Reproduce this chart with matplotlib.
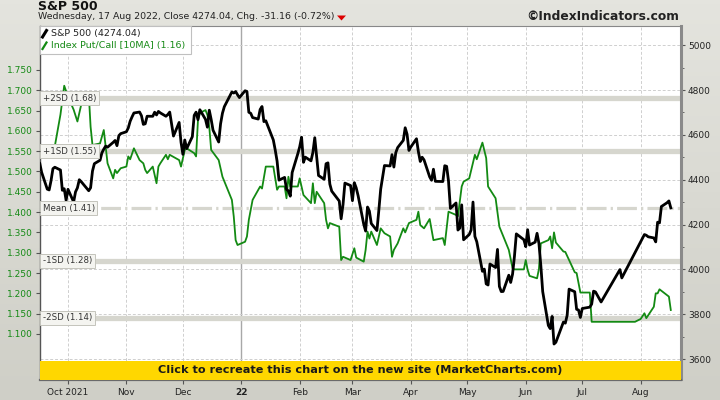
import pandas as pd
import matplotlib
matplotlib.use("Agg")
import matplotlib.pyplot as plt
import matplotlib.dates as mdates
import matplotlib.transforms as mtrans
from matplotlib.colors import LinearSegmentedColormap
from matplotlib.patches import Rectangle, Polygon
from matplotlib.lines import Line2D
from matplotlib.ticker import FixedLocator, MultipleLocator, FormatStrFormatter

# ==== DATA ====
# S&P 500 daily closes, 15 Sep 2021 .. 17 Aug 2022 (gaps in July as on the chart)
sp_close = [
    # Sep 2021
    4480.7, 4473.8, 4433.0, 4357.7, 4354.2, 4395.6, 4449.0, 4455.5, 4443.1, 4352.6, 4359.5, 4307.5,
    # Oct
    4357.0, 4300.5, 4345.7, 4363.6, 4399.8, 4391.3, 4361.2, 4350.7, 4363.8, 4438.3, 4471.4,
    4486.5, 4519.6, 4536.2, 4549.8, 4544.9, 4566.5, 4574.8, 4551.7, 4596.4, 4605.4,
    # Nov
    4613.7, 4630.7, 4660.6, 4680.1, 4697.5, 4701.7, 4685.3, 4646.7, 4649.3, 4682.9, 4682.8,
    4700.9, 4688.7, 4704.5, 4698.0, 4682.9, 4690.7, 4701.5, 4594.6, 4655.3, 4567.0,
    # Dec
    4513.0, 4577.1, 4538.4, 4591.7, 4686.8, 4701.2, 4667.5, 4712.0, 4669.0, 4634.1, 4709.9,
    4668.7, 4620.6, 4568.0, 4649.2, 4696.6, 4725.8, 4791.2, 4786.4, 4793.1, 4778.7, 4766.2,
    # Jan 2022
    4796.6, 4793.5, 4700.6, 4696.1, 4677.0, 4670.3, 4713.1, 4726.4, 4659.0, 4662.9,
    4577.1, 4532.8, 4482.7, 4397.9, 4410.1, 4356.5, 4349.9, 4326.5, 4431.9, 4515.6,
    # Feb
    4546.5, 4589.4, 4477.4, 4500.5, 4483.9, 4521.5, 4587.2, 4504.1, 4418.6, 4401.7,
    4471.1, 4475.0, 4380.3, 4348.9, 4304.8, 4225.5, 4288.7, 4384.7, 4373.9,
    # Mar
    4306.3, 4386.5, 4363.5, 4328.9, 4201.1, 4170.7, 4277.9, 4259.5, 4204.3, 4173.1, 4262.5, 4357.9,
    4411.7, 4463.1, 4461.2, 4511.6, 4456.2, 4520.2, 4543.1, 4575.5, 4631.6, 4602.5, 4530.4,
    # Apr
    4545.9, 4582.6, 4525.1, 4481.2, 4500.2, 4488.3, 4412.5, 4397.5, 4446.6, 4392.6,
    4391.7, 4462.2, 4459.5, 4393.7, 4271.8, 4296.1, 4175.2, 4184.0, 4287.5, 4131.9,
    # May
    4155.4, 4175.5, 4300.2, 4146.9, 4123.3, 3991.2, 4001.1, 3935.2, 3930.1, 4023.9, 4008.0,
    4088.9, 3923.7, 3900.8, 3901.4, 3973.8, 3941.5, 3978.7, 4057.8, 4158.2, 4132.2,
    # Jun
    4101.2, 4176.8, 4108.5, 4121.4, 4160.7, 4115.8, 4017.8, 3900.9, 3749.6, 3735.5, 3790.0,
    3666.8, 3674.8, 3764.8, 3759.9, 3795.7, 3911.7, 3900.1, 3821.6, 3818.8, 3785.4,
    # Jul
    3825.3, 3831.4, 3845.1, 3902.6, 3899.4, 3854.4, 3999.0, 3961.6,
    # Aug
    4155.2, 4151.9, 4145.2, 4140.1, 4122.5, 4210.2, 4207.3, 4280.2, 4297.1, 4305.2, 4274.0,
]
holidays = ["2021-11-25", "2021-12-24", "2022-01-17", "2022-02-21",
            "2022-04-15", "2022-05-30", "2022-06-20", "2022-07-04"]
gaps = [("2022-07-12", "2022-07-20"), ("2022-07-25", "2022-08-02")]

# Index Put/Call ratio, 10 day moving average
pc_dates = [
    "2021-09-15", "2021-09-17", "2021-09-20", "2021-09-22", "2021-09-24", "2021-09-27", "2021-09-29",
    "2021-10-01", "2021-10-04", "2021-10-06", "2021-10-08", "2021-10-11", "2021-10-12", "2021-10-13",
    "2021-10-14", "2021-10-18", "2021-10-19", "2021-10-20", "2021-10-21", "2021-10-22", "2021-10-25",
    "2021-10-26", "2021-10-27", "2021-10-29", "2021-11-01", "2021-11-02", "2021-11-03", "2021-11-05",
    "2021-11-08", "2021-11-10", "2021-11-11", "2021-11-12", "2021-11-15", "2021-11-17", "2021-11-18",
    "2021-11-19", "2021-11-22", "2021-11-23", "2021-11-24", "2021-11-29", "2021-11-30", "2021-12-02",
    "2021-12-03", "2021-12-06", "2021-12-07", "2021-12-08", "2021-12-09", "2021-12-10", "2021-12-13",
    "2021-12-14", "2021-12-15", "2021-12-16", "2021-12-20", "2021-12-22", "2021-12-27", "2021-12-28",
    "2021-12-29", "2021-12-30", "2022-01-03", "2022-01-04", "2022-01-05", "2022-01-07", "2022-01-10",
    "2022-01-11", "2022-01-12", "2022-01-14", "2022-01-18", "2022-01-20", "2022-01-21", "2022-01-24",
    "2022-01-25", "2022-01-26", "2022-01-27", "2022-01-31", "2022-02-01", "2022-02-03", "2022-02-07",
    "2022-02-08", "2022-02-09", "2022-02-10", "2022-02-14", "2022-02-15", "2022-02-16", "2022-02-17",
    "2022-02-22", "2022-02-23", "2022-02-24", "2022-02-28", "2022-03-02", "2022-03-03", "2022-03-07",
    "2022-03-08", "2022-03-09", "2022-03-10", "2022-03-11", "2022-03-14", "2022-03-16", "2022-03-18",
    "2022-03-21", "2022-03-22", "2022-03-23", "2022-03-25", "2022-03-28", "2022-03-29", "2022-03-31",
    "2022-04-04", "2022-04-05", "2022-04-06", "2022-04-08", "2022-04-11", "2022-04-13", "2022-04-18",
    "2022-04-19", "2022-04-21", "2022-04-25", "2022-04-26", "2022-04-28", "2022-04-29", "2022-05-02",
    "2022-05-05", "2022-05-06", "2022-05-09", "2022-05-11", "2022-05-12", "2022-05-16", "2022-05-18",
    "2022-05-23", "2022-05-25", "2022-05-26", "2022-05-31", "2022-06-01", "2022-06-02", "2022-06-03",
    "2022-06-07", "2022-06-08", "2022-06-09", "2022-06-13", "2022-06-14", "2022-06-15", "2022-06-16",
    "2022-06-17", "2022-06-21", "2022-06-22", "2022-06-27", "2022-06-28", "2022-06-30", "2022-07-05",
    "2022-07-06", "2022-07-29", "2022-08-01", "2022-08-03", "2022-08-04", "2022-08-08", "2022-08-09",
    "2022-08-10", "2022-08-11", "2022-08-16", "2022-08-17",
]
pc_vals = [
    1.573, 1.563, 1.545, 1.538, 1.562, 1.640, 1.711,
    1.684, 1.652, 1.623, 1.664, 1.672, 1.693, 1.610,
    1.565, 1.569, 1.586, 1.602, 1.561, 1.520, 1.483,
    1.504, 1.496, 1.508, 1.512, 1.537, 1.530, 1.557,
    1.528, 1.520, 1.504, 1.496, 1.512, 1.471, 1.512,
    1.520, 1.541, 1.530, 1.541, 1.528, 1.512, 1.553,
    1.557, 1.548, 1.545, 1.537, 1.627, 1.644, 1.651,
    1.639, 1.610, 1.553, 1.528, 1.487, 1.430, 1.389,
    1.331, 1.319, 1.327, 1.340, 1.381, 1.430, 1.455,
    1.463, 1.458, 1.512, 1.512, 1.455, 1.463, 1.463,
    1.434, 1.487, 1.463, 1.463, 1.483, 1.442, 1.422,
    1.471, 1.422, 1.450, 1.422, 1.381, 1.360, 1.373,
    1.364, 1.282, 1.290, 1.282, 1.311, 1.288, 1.278,
    1.307, 1.352, 1.335, 1.352, 1.319, 1.360, 1.348,
    1.340, 1.290, 1.307, 1.323, 1.360, 1.350, 1.373,
    1.381, 1.401, 1.368, 1.360, 1.383, 1.331, 1.336,
    1.319, 1.401, 1.393, 1.390, 1.463, 1.475, 1.483,
    1.541, 1.530, 1.571, 1.533, 1.463, 1.434, 1.364,
    1.307, 1.262, 1.259, 1.259, 1.282, 1.258, 1.243,
    1.237, 1.260, 1.323, 1.331, 1.340, 1.311, 1.350,
    1.325, 1.303, 1.302, 1.252, 1.250, 1.202, 1.202,
    1.130, 1.130, 1.137, 1.151, 1.139, 1.167, 1.200,
    1.200, 1.210, 1.192, 1.159,
]

sd_names = ["+2SD", "+1SD", "Mean", "-1SD", "-2SD"]
sd_levels = [1.68, 1.55, 1.41, 1.28, 1.14]

month_ticks = ["2021-10-01", "2021-11-01", "2021-12-01", "2022-01-01", "2022-02-01", "2022-03-01",
               "2022-04-01", "2022-05-01", "2022-06-01", "2022-07-01", "2022-08-01"]
month_labels = ["Oct 2021", "Nov", "Dec", "22", "Feb", "Mar", "Apr", "May", "Jun", "Jul", "Aug"]

# ==== DATES ====
sp_dates = pd.bdate_range("2021-09-15", "2022-08-17", freq="C", holidays=holidays)
for a, b in gaps:
    sp_dates = sp_dates[(sp_dates < a) | (sp_dates > b)]
pc_x = pd.to_datetime(pc_dates)
ticks_x = pd.to_datetime(month_ticks)

# ==== FIGURE ====
plt.rcParams["font.family"] = ["DejaVu Sans"]
W, H = 720, 400
fig = plt.figure(figsize=(7.2, 4.0), dpi=100)


def fx(px):
    return px / W


def fy(py):
    return 1 - py / H


# background gradient
bg = fig.add_axes([0, 0, 1, 1], zorder=-10)
cmap_bg = LinearSegmentedColormap.from_list("bg", ["#e4e4de", "#cfcfc7"])
bg.imshow([[i / 99] for i in range(100)], aspect="auto", cmap=cmap_bg, extent=[0, 1, 0, 1])
bg.axis("off")

L, R, T, B = 39.5, 681, 26, 379.5
ax = fig.add_axes([fx(L), fy(B), (R - L) / W, (B - T) / H])
ax.set_facecolor("white")
ax_pc = ax.twinx()
ax_pc.patch.set_visible(False)

ax.set_xlim(pd.Timestamp("2021-09-15 21:00"), pd.Timestamp("2022-08-22 10:00"))
ax.set_ylim(3508.6, 5085.5)
ax_pc.set_ylim(0.988, 1.858)
ax.set_autoscale_on(False)
ax_pc.set_autoscale_on(False)

# S&P axis on the right, put/call on the left
ax.yaxis.tick_right()
ax_pc.yaxis.tick_left()
ax.yaxis.set_major_locator(MultipleLocator(200))
ax.yaxis.set_minor_locator(MultipleLocator(100))
ax.tick_params(axis="y", which="major", length=3, color="#555555", labelsize=6.5,
               labelcolor="#222222", pad=2)
ax.tick_params(axis="y", which="minor", length=2, color="#555555")
ax_pc.yaxis.set_major_locator(FixedLocator([1.10 + 0.05 * i for i in range(14)]))
ax_pc.yaxis.set_major_formatter(FormatStrFormatter("%.3f"))
ax_pc.tick_params(axis="y", length=3, color="#555555", labelsize=6.5,
                  labelcolor="#168a16", pad=2)

ax.xaxis.set_major_locator(FixedLocator(mdates.date2num(ticks_x)))
ax.set_xticklabels(month_labels)
ax.tick_params(axis="x", length=3, color="#555555", labelsize=6.5, labelcolor="#222222", pad=3)
ax.get_xticklabels()[3].set_fontweight("bold")

for sp in ax_pc.spines.values():
    sp.set_visible(False)
ax.spines["left"].set_color("#555555")
ax.spines["left"].set_linewidth(1.0)
ax.spines["top"].set_color("#888888")
ax.spines["top"].set_linewidth(0.8)
ax.spines["right"].set_color("#8a8a8a")
ax.spines["right"].set_linewidth(2.2)
ax.spines["bottom"].set_color("#6a6a6a")
ax.spines["bottom"].set_linewidth(1.6)

# grid
ax.yaxis.grid(True, which="major", linestyle=(0, (3, 2)), color="#cfcfcf", linewidth=0.7, zorder=0)
for i, d in enumerate(ticks_x):
    if month_labels[i] == "22":
        ax.axvline(d, color="#a8a8a8", linewidth=1.0, zorder=0.6)
    else:
        ax.axvline(d, color="#cfcfcf", linewidth=0.7, linestyle=(0, (3, 2)), zorder=0.6)

# SD bands (put/call scale)
band_tr = mtrans.blended_transform_factory(ax.transAxes, ax_pc.transData)
for name, lev in zip(sd_names, sd_levels):
    if name == "Mean":
        ax.plot([0, 1], [lev, lev], transform=band_tr, color="#d6d6ce", linewidth=2.3,
                linestyle=(0, (6.2, 1.3, 0.7, 1.3)), solid_capstyle="butt", zorder=1)
    else:
        ax.plot([0, 1], [lev, lev], transform=band_tr, color="#d6d6ce", linewidth=3.8,
                solid_capstyle="butt", zorder=1)

# series
ax.plot(pc_x, pc_vals, transform=ax_pc.transData, color="#138a13", linewidth=1.3, zorder=2)
ax.plot(sp_dates, sp_close, color="black", linewidth=2.0, zorder=3)

# SD labels
for name, lev in zip(sd_names, sd_levels):
    ax.text(0.005, lev, f"{name} ({lev:.2f})", transform=band_tr, fontsize=6.2, color="#333333",
            va="center", ha="left", zorder=6,
            bbox=dict(boxstyle="square,pad=0.3", facecolor="#f4f4f0", edgecolor="#c4c4bc", linewidth=0.7))

# yellow banner
ax.add_patch(Rectangle((0, 0), 1, (B - 361) / (B - T), transform=ax.transAxes,
                       facecolor="#ffd700", edgecolor="none", zorder=5))
ax.text(0.5, (B - 361) / (B - T) / 2, "Click to recreate this chart on the new site (MarketCharts.com)",
        transform=ax.transAxes, ha="center", va="center", fontsize=8.1, fontweight="bold",
        color="#1a1a1a", zorder=6)

# legend box
fig.add_artist(Rectangle((fx(39.5), fy(54)), (190.7 - 39.5) / W, 28 / H, transform=fig.transFigure,
                         facecolor="white", edgecolor="#c0c0c0", linewidth=0.8, zorder=5))
fig.add_artist(Line2D([fx(42.5), fx(46.5)], [fy(37), fy(30.5)], color="black", linewidth=2.2, zorder=6))
fig.add_artist(Line2D([fx(42.5), fx(46.5)], [fy(49), fy(42.5)], color="#138a13", linewidth=1.6, zorder=6))
fig.text(fx(51), fy(33.5), "S&P 500 (4274.04)", fontsize=6.8, color="#222222", va="center", zorder=6)
fig.text(fx(51), fy(45.5), "Index Put/Call [10MA] (1.16)", fontsize=6.8, color="#168a16", va="center", zorder=6)

# header
fig.text(fx(38), fy(6.5), "S&P 500", fontsize=9, fontweight="bold", color="#111111", va="center")
fig.text(fx(38), fy(16.8), "Wednesday, 17 Aug 2022, Close 4274.04, Chg. -31.16 (-0.72%)",
         fontsize=6.75, color="#222222", va="center")
fig.add_artist(Polygon([[fx(337), fy(15.5)], [fx(346), fy(15.5)], [fx(341.5), fy(20.5)]],
                       closed=True, transform=fig.transFigure, facecolor="#dd0000", edgecolor="none"))
fig.text(fx(679), fy(16), "©IndexIndicators.com", fontsize=8.8, fontweight="bold", color="#222222",
         va="center", ha="right")

fig.savefig("out.png", dpi=100)
